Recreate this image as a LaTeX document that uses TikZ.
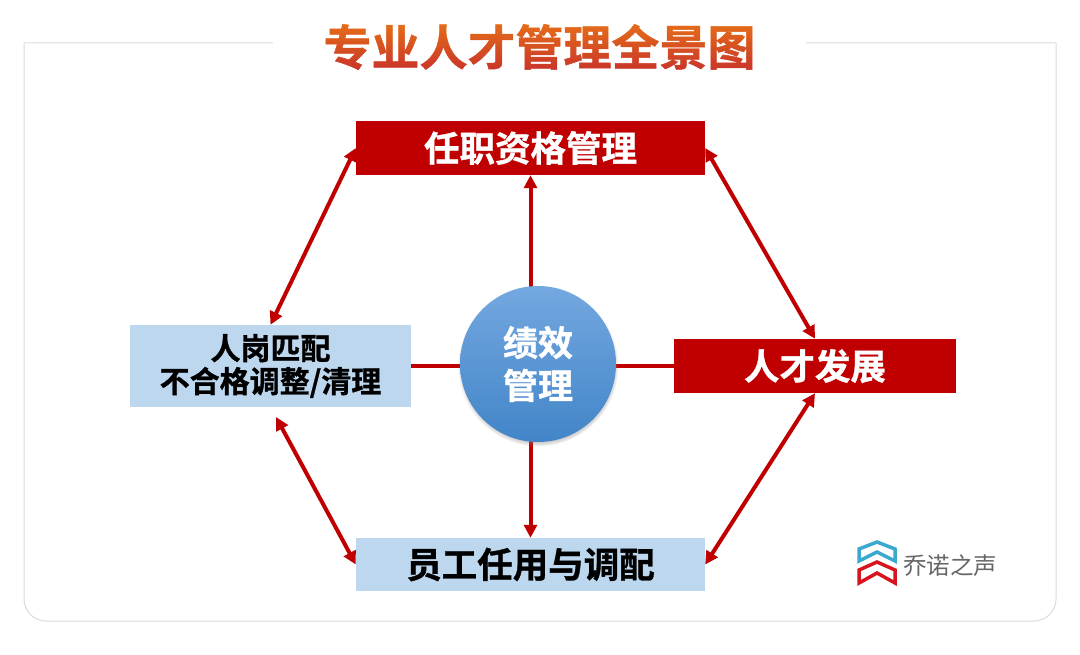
\documentclass[tikz,border=0pt]{standalone}
\usepackage{fontspec}
\setmainfont{Noto Sans CJK SC}
\newfontfamily\boldcjk[FakeBold=1]{Noto Sans CJK SC Bold}
\usetikzlibrary{arrows.meta,shadows,backgrounds}

\definecolor{boxred}{HTML}{C00000}
\definecolor{boxblue}{HTML}{BDD7EE}
\definecolor{framegray}{HTML}{DCDCDC}
\definecolor{titletop}{HTML}{E56F18}
\definecolor{titlebottom}{HTML}{C8322A}
\definecolor{perftop}{HTML}{74A8E0}
\definecolor{perfbottom}{HTML}{4285C8}
\definecolor{logoblue}{HTML}{3BA8D0}
\definecolor{logored}{HTML}{D8141E}

\begin{document}
\begin{tikzpicture}[x=1pt,y=-1pt,>={Triangle[length=13pt,width=13pt]},
  red box/.style={rectangle,fill=boxred,text=white,inner sep=0pt,font=\boldcjk\fontsize{35.5}{40}\selectfont},
  blue box/.style={rectangle,fill=boxblue,text=black,inner sep=0pt,align=center,font=\boldcjk\fontsize{35.5}{40}\selectfont},
  link/.style={<->,boxred,line width=4pt},
  spoke/.style={boxred,line width=4pt},
  logo line/.style={line width=3.5pt,miter limit=10}]

  \useasboundingbox (0,0) rectangle (1080,655);
  \draw[framegray,line width=1pt] (1056,43) -- (24,43) [rounded corners=22pt] -- (24,621) -- (1056,621) -- (1056,43);

  \node[fill=white,text=black,minimum width=531pt,minimum height=50pt,inner sep=0pt,font=\boldcjk\fontsize{48}{50}\selectfont] (title) at (539.5,47) {专业人才管理全景图};
  \shade[blend mode=screen,top color=titletop,bottom color=titlebottom] (title.north west) rectangle (title.south east);
  \draw[white,line width=2pt] (title.north west) rectangle (title.south east);

  \node[red box,minimum width=349pt,minimum height=54pt] (quali) at (530.5,148) {任职资格管理};
  \node[red box,minimum width=282pt,minimum height=54pt] (develop) at (815,366) {人才发展};
  \node[blue box,minimum width=281pt,minimum height=82pt,font=\boldcjk\fontsize{30}{36}\selectfont,yshift=-1pt] (match) at (270.5,365) {人岗匹配\\[-3pt]不合格调整/清理};
  \node[blue box,minimum width=349pt,minimum height=53pt] (employ) at (530.5,564.5) {员工任用与调配};

  \node[circle,minimum size=156pt,inner sep=0pt,top color=perftop,bottom color=perfbottom,circular drop shadow={shadow scale=1.03,shadow xshift=0pt,shadow yshift=-2pt},text=white,align=center,font=\boldcjk\fontsize{35}{43}\selectfont] (perf) at (538,364) {绩效\\管理};

  \node[text=black!60,font=\fontsize{23.5}{26}\selectfont,inner sep=0pt] (brand) at (950,566) {乔诺之声};
  \coordinate (matchlow) at (276,417);

  \draw[logo line,logoblue] (859,549) -- (877,542) -- (895,549) -- (895,561) -- (877,552) -- (859,561) -- cycle;
  \draw[logo line,logored] (859,570) -- (877,562) -- (895,570) -- (895,583) -- (877,573) -- (859,583) -- cycle;

  \begin{scope}[on background layer]
    \draw[link] (quali.west) -- (match.north);
    \draw[link] (quali.east) -- (develop.north);
    \draw[link] (develop.south) -- (employ.east);
    \draw[link] (matchlow) -- (employ.west);
    \draw[spoke,->] (perf -| quali.south) -- (quali.south);
    \draw[spoke,->] (perf -| employ.north) -- (employ.north);
    \draw[spoke] (perf |- develop.west) -- (match.east |- develop.west);
    \draw[spoke] (perf |- develop.west) -- (develop.west);
  \end{scope}

\end{tikzpicture}
\end{document}
